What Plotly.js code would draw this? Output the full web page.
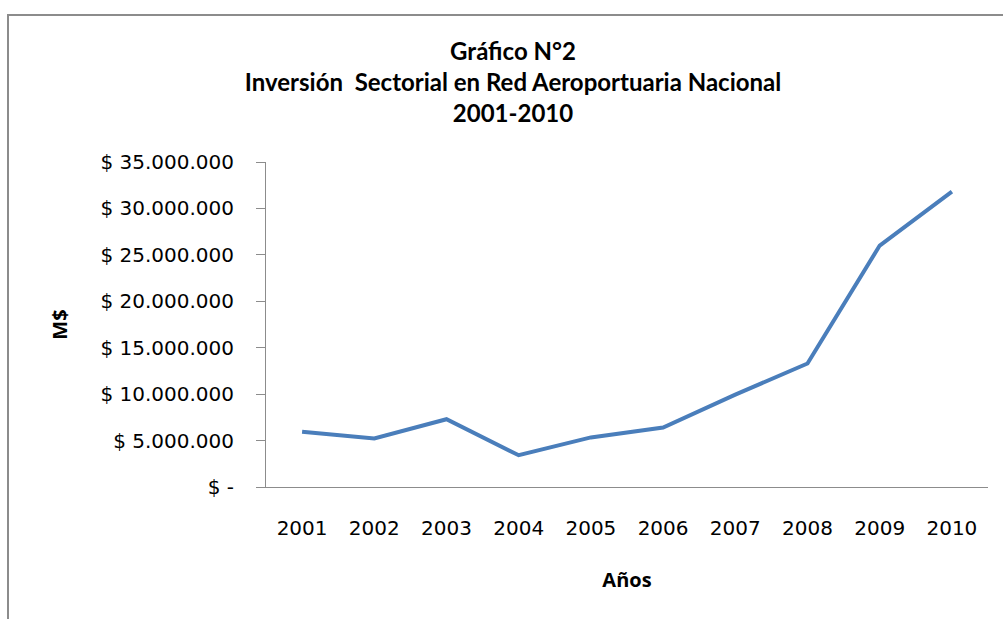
<!DOCTYPE html>
<html>
<head>
<meta charset="utf-8">
<script src="https://cdn.plot.ly/plotly-3.0.1.min.js"></script>
<style>
  html, body { margin: 0; padding: 0; background: #fff; }
  #wrap { position: relative; width: 1003px; height: 619px; overflow: hidden; }
  #chart { position: absolute; left: 0; top: 0; width: 1003px; height: 619px; }
  #frame { position: absolute; left: 7px; top: 14px; width: 1003px; height: 700px;
           border-left: 2px solid #8c8c8c; border-top: 2px solid #8c8c8c; pointer-events: none; }
</style>
</head>
<body>
<div id="wrap">
  <div id="chart"></div>
  <div id="frame"></div>
</div>
<script>
const years = ['2001','2002','2003','2004','2005','2006','2007','2008','2009','2010'];
const investment = [5940000, 5230000, 7300000, 3420000, 5340000, 6400000, 9950000, 13300000, 26000000, 31800000];
const yTickVals = [0, 5000000, 10000000, 15000000, 20000000, 25000000, 30000000, 35000000];
const yTickText = ['$ -', '$ 5.000.000', '$ 10.000.000', '$ 15.000.000', '$ 20.000.000', '$ 25.000.000', '$ 30.000.000', '$ 35.000.000'];
const titleText = 'Gráfico N°2<br>Inversión  Sectorial en Red Aeroportuaria Nacional<br>2001-2010';

const trace = {
  x: years,
  y: investment,
  type: 'scatter',
  mode: 'lines',
  line: { color: '#4A7EBB', width: 4 },
  hoverinfo: 'x+y'
};

const layout = {
  width: 1003,
  height: 619,
  paper_bgcolor: '#ffffff',
  plot_bgcolor: '#ffffff',
  margin: { l: 266, r: 15, t: 162, b: 132, autoexpand: false },
  showlegend: false,
  title: {
    text: titleText,
    x: 513 / 1003,
    xanchor: 'center',
    xref: 'container',
    y: 1 - 60 / 619,
    yanchor: 'middle',
    yref: 'container',
    font: { family: 'Lato, sans-serif', size: 24, color: '#000', weight: 'bold' }
  },
  xaxis: {
    type: 'category',
    range: [-0.5, 9.5],
    showline: true,
    linecolor: '#8c8c8c',
    linewidth: 1,
    showgrid: false,
    zeroline: false,
    ticks: '',
    ticklabelstandoff: 23,
    tickfont: { family: 'DejaVu Sans, sans-serif', size: 20, color: '#000' },
    title: {
      text: 'Años',
      standoff: 33,
      font: { family: 'Open Sans, sans-serif', size: 20, color: '#000', weight: 'bold' }
    },
    automargin: false,
    fixedrange: true
  },
  yaxis: {
    range: [0, 35000000],
    tickmode: 'array',
    tickvals: yTickVals,
    ticktext: yTickText,
    showline: true,
    linecolor: '#8c8c8c',
    linewidth: 1,
    showgrid: false,
    zeroline: false,
    ticks: 'outside',
    ticklen: 9,
    tickcolor: '#8c8c8c',
    tickwidth: 1,
    ticklabelstandoff: 18,
    tickfont: { family: 'DejaVu Sans, sans-serif', size: 20, color: '#000' },
    title: {
      text: 'M$',
      standoff: 27,
      font: { family: 'Open Sans, sans-serif', size: 20, color: '#000', weight: 'bold' }
    },
    automargin: false,
    fixedrange: true
  }
};

Plotly.newPlot('chart', [trace], layout, { displayModeBar: false, staticPlot: false });
</script>
</body>
</html>
